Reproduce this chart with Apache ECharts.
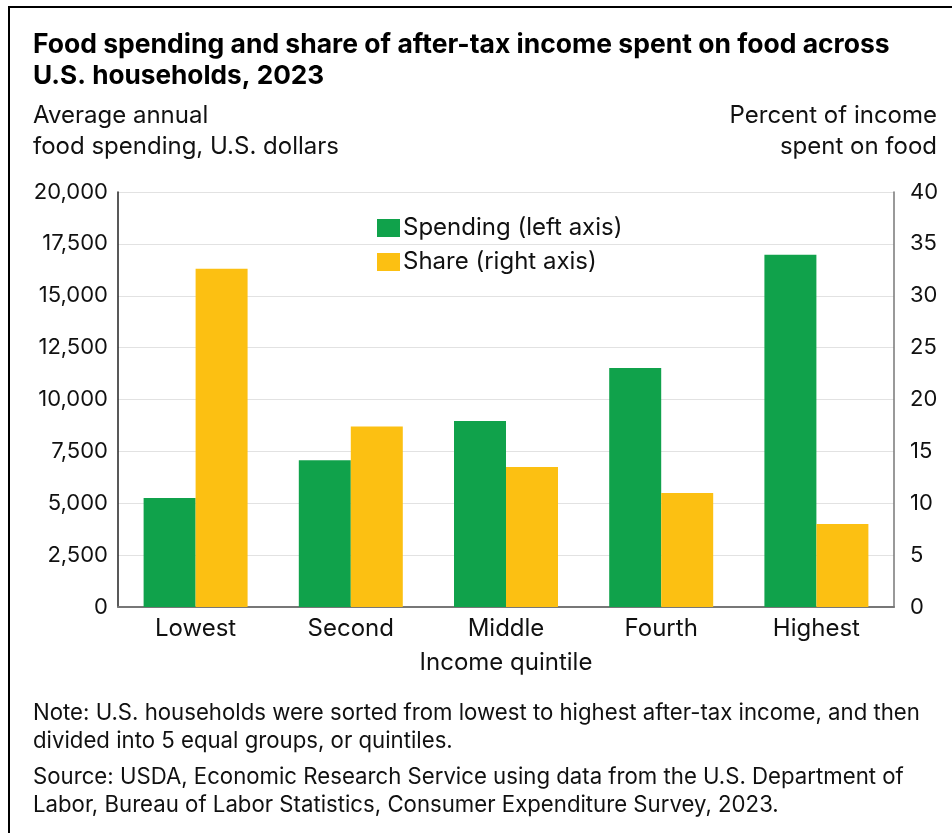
<!DOCTYPE html>
<html>
<head>
<meta charset="utf-8">
<script src="https://cdn.jsdelivr.net/npm/echarts@6/dist/echarts.min.js"></script>
<style>
html,body{margin:0;padding:0;background:#fff;}
#chart{width:952px;height:833px;}
</style>
</head>
<body>
<div id="chart"></div>
<script>
const categories = ['Lowest', 'Second', 'Middle', 'Fourth', 'Highest'];
const spending = [5250, 7070, 8960, 11520, 16980];
const share = [32.6, 17.4, 13.5, 11.0, 8.0];
const leftTicks = {min: 0, max: 20000, interval: 2500};
const rightTicks = {min: 0, max: 40, interval: 5};

const FONT = 'Inter, "Liberation Sans", Arial, sans-serif';
const TXT = '#111';
function txt(text, x, y, size, opts) {
  return {
    type: 'text', x: x, y: y, silent: true,
    style: Object.assign({text: text, fontFamily: FONT, fontSize: size, fill: TXT,
      textAlign: 'left', textVerticalAlign: 'middle'}, opts || {})
  };
}
const chart = echarts.init(document.getElementById('chart'), null, {renderer: 'canvas'});
chart.setOption({
  animation: false,
  backgroundColor: '#fff',
  textStyle: {fontFamily: FONT},
  graphic: [
    {type: 'rect', shape: {x: 9, y: 7, width: 1000, height: 900},
     style: {fill: 'none', stroke: '#000', lineWidth: 2}, silent: true, z: -1},
    txt('Food spending and share of after-tax income spent on food across', 33, 45, 26.5, {fontWeight: 'bold', fill: '#000'}),
    txt('U.S. households, 2023', 33, 76, 26.2, {fontWeight: 'bold', fill: '#000'}),
    txt('Average annual', 33, 116, 24),
    txt('food spending, U.S. dollars', 33, 147, 24),
    txt('Percent of income', 937, 116, 24, {textAlign: 'right'}),
    txt('spent on food', 937, 147, 24, {textAlign: 'right'}),
    txt('Note: U.S. households were sorted from lowest to highest after-tax income, and then', 33, 713, 22.2),
    txt('divided into 5 equal groups, or quintiles.', 33, 741, 22.2),
    txt('Source: USDA, Economic Research Service using data from the U.S. Department of', 33, 777, 22.2),
    txt('Labor, Bureau of Labor Statistics, Consumer Expenditure Survey, 2023.', 33, 805, 22.2)
  ],
  legend: {
    orient: 'vertical', left: 377, top: 216, padding: 0,
    itemWidth: 23, itemHeight: 18, itemGap: 10,
    textStyle: {fontFamily: FONT, fontSize: 24, color: TXT, padding: [0, 0, 0, -2]},
    data: [{name: 'Spending (left axis)', icon: 'rect'}, {name: 'Share (right axis)', icon: 'rect'}]
  },
  grid: {left: 118, right: 58, top: 192, bottom: 226, containLabel: false},
  xAxis: {
    type: 'category', data: categories,
    name: 'Income quintile', nameLocation: 'middle', nameGap: 44,
    nameTextStyle: {fontFamily: FONT, fontSize: 24, color: TXT},
    axisTick: {show: false},
    axisLine: {lineStyle: {color: '#777', width: 2}},
    axisLabel: {fontFamily: FONT, fontSize: 24, color: TXT, margin: 10}
  },
  yAxis: [
    {type: 'value', min: leftTicks.min, max: leftTicks.max, interval: leftTicks.interval,
     axisLine: {show: true, lineStyle: {color: '#222', width: 1.5}},
     axisTick: {show: false},
     axisLabel: {fontFamily: FONT, fontSize: 22, color: TXT, margin: 10},
     splitLine: {lineStyle: {color: '#e2e2e2', width: 1}}},
    {type: 'value', min: rightTicks.min, max: rightTicks.max, interval: rightTicks.interval,
     position: 'right',
     axisLine: {show: true, lineStyle: {color: '#777', width: 1.5}},
     axisTick: {show: false},
     axisLabel: {fontFamily: FONT, fontSize: 22, color: TXT, margin: 16},
     splitLine: {show: false}}
  ],
  series: [
    {name: 'Spending (left axis)', type: 'bar', yAxisIndex: 0, data: spending,
     itemStyle: {color: '#10a24b'}, barGap: '0%', barCategoryGap: '33%'},
    {name: 'Share (right axis)', type: 'bar', yAxisIndex: 1, data: share,
     itemStyle: {color: '#fcc012'}, barGap: '0%', barCategoryGap: '33%'}
  ]
});
</script>
</body>
</html>
